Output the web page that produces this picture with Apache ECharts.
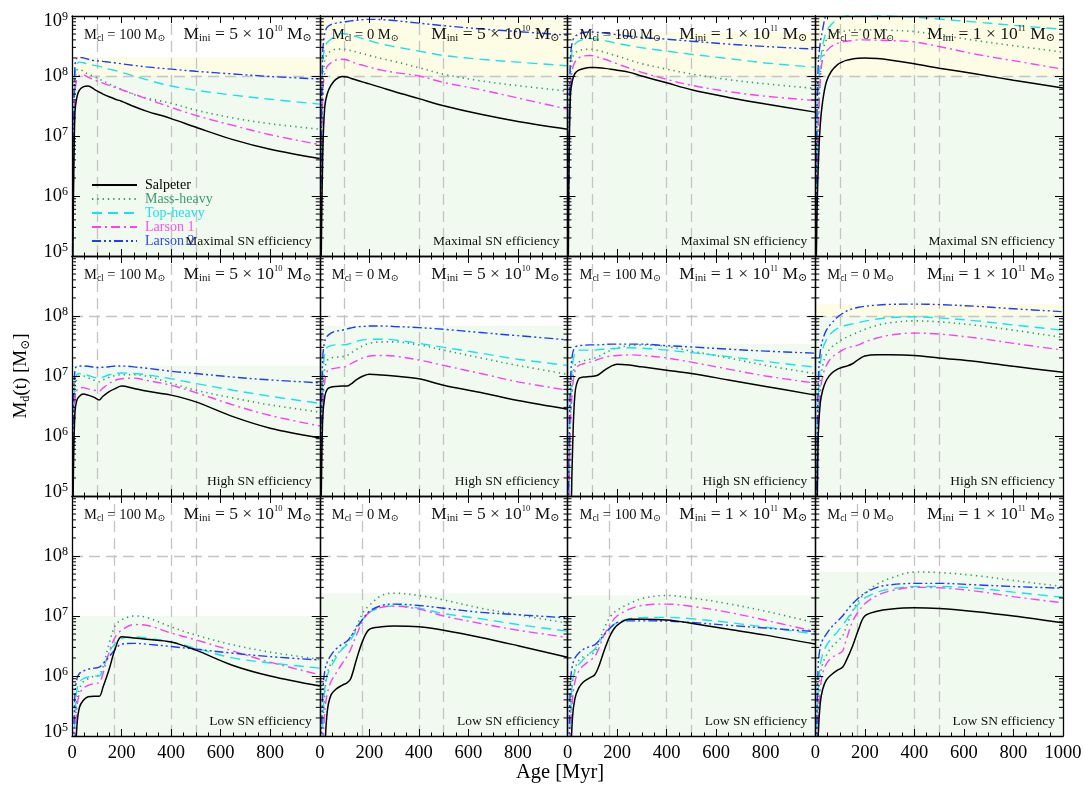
<!DOCTYPE html>
<html>
<head>
<meta charset="utf-8">
<script src="https://cdn.jsdelivr.net/npm/echarts@6/dist/echarts.min.js"></script>
<style>html,body{margin:0;padding:0;background:#fff;}#chart{width:1085px;height:785px;}</style>
</head>
<body>
<div id="chart"></div>
<script>
// ---------------- DATA ----------------
const AGE = [2, 6, 12, 20, 30, 45, 65, 90, 110, 125, 150, 175, 200, 250, 300, 400, 500, 650, 800, 1000];
const SERIES_NAMES = ['Salpeter', 'Mass-heavy', 'Top-heavy', 'Larson 1', 'Larson 2'];
const M_CL = ['100', '0', '100', '0'];
const M_INI_COEF = ['5', '5', '1', '1'];
const M_INI_EXP = ['10', '10', '11', '11'];
const ROW_LABELS = ['Maximal SN efficiency', 'High SN efficiency', 'Low SN efficiency'];
const V_LINES = [[100, 400, 500], [100, 400, 500], [170, 400, 500]];
const H_LINE = 1e8;
const X_TICKS = [0, 200, 400, 600, 800, 1000];
const Y_DECADES = [1e5, 1e6, 1e7, 1e8, 1e9];
const MINOR_MULT = [2, 3, 4, 5, 6, 7, 8, 9];

// Row 1: Maximal SN efficiency
const R1C1_SAL = [3e4, 1e6, 2.5e7, 4.5e7, 5.8e7, 6.6e7, 6.8e7, 6.0e7, 5.4e7, 5.0e7, 4.5e7, 4.1e7, 3.8e7, 3.1e7, 2.6e7, 1.95e7, 1.4e7, 8.7e6, 6.0e6, 4.2e6];
const R1C1_MH  = [3e4, 3e6, 8e7, 1.26e8, 1.3e8, 1.2e8, 1.07e8, 9.8e7, 8.9e7, 8.3e7, 7.4e7, 6.6e7, 6.0e7, 4.9e7, 4.3e7, 3.5e7, 2.7e7, 2.0e7, 1.6e7, 1.3e7];
const R1C1_TH  = [3e4, 5e6, 1e8, 1.6e8, 1.7e8, 1.66e8, 1.58e8, 1.5e8, 1.45e8, 1.4e8, 1.3e8, 1.23e8, 1.15e8, 1e8, 8.7e7, 6.8e7, 5.8e7, 4.8e7, 4.1e7, 3.4e7];
const R1C1_L1  = [2e4, 2e6, 5e7, 9e7, 1.02e8, 1.05e8, 9.6e7, 8.6e7, 8.0e7, 7.6e7, 7.0e7, 6.4e7, 5.9e7, 5.0e7, 4.2e7, 3.0e7, 2.2e7, 1.5e7, 1.05e7, 7.2e6];
const R1C1_L2  = [5e4, 1e7, 1.5e8, 2e8, 2.05e8, 2e8, 1.9e8, 1.8e8, 1.78e8, 1.75e8, 1.7e8, 1.65e8, 1.6e8, 1.5e8, 1.42e8, 1.3e8, 1.2e8, 1.08e8, 9.8e7, 8.9e7];

const R1C2_SAL = [1e4, 1e5, 5e6, 3e7, 5e7, 7e7, 8.8e7, 9.8e7, 9.6e7, 9.2e7, 8.5e7, 7.9e7, 7.4e7, 6.4e7, 5.5e7, 4.2e7, 3.2e7, 2.3e7, 1.75e7, 1.3e7];
const R1C2_MH  = [1e4, 1e6, 8e7, 1.8e8, 2.3e8, 2.6e8, 2.8e8, 2.8e8, 2.75e8, 2.65e8, 2.5e8, 2.35e8, 2.2e8, 1.95e8, 1.75e8, 1.38e8, 1.07e8, 8.3e7, 6.9e7, 5.6e7];
const R1C2_TH  = [1e4, 2e6, 1.5e8, 3e8, 3.6e8, 4.1e8, 4.7e8, 5.1e8, 5e8, 4.8e8, 4.5e8, 4.2e8, 3.9e8, 3.4e8, 3.1e8, 2.6e8, 2.2e8, 1.9e8, 1.7e8, 1.48e8];
const R1C2_L1  = [1e4, 5e5, 5e7, 1.1e8, 1.45e8, 1.65e8, 1.85e8, 1.9e8, 1.85e8, 1.75e8, 1.6e8, 1.5e8, 1.4e8, 1.25e8, 1.15e8, 1e8, 7.8e7, 5.9e7, 4.3e7, 2.8e7];
const R1C2_L2  = [1e4, 5e6, 2.5e8, 5e8, 6.5e8, 7.2e8, 7.6e8, 7.9e8, 8.1e8, 8.3e8, 8.5e8, 8.7e8, 8.8e8, 8.7e8, 8.4e8, 7.6e8, 6.9e8, 6.1e8, 5.5e8, 4.8e8];

const R1C3_SAL = [1e4, 3e6, 5e7, 8.5e7, 1.1e8, 1.25e8, 1.33e8, 1.38e8, 1.38e8, 1.37e8, 1.34e8, 1.3e8, 1.25e8, 1.15e8, 1e8, 7.7e7, 5.9e7, 4.4e7, 3.4e7, 2.5e7];
const R1C3_MH  = [1e4, 5e6, 1e8, 2e8, 2.4e8, 2.65e8, 2.75e8, 2.8e8, 2.75e8, 2.65e8, 2.5e8, 2.3e8, 2.15e8, 1.85e8, 1.6e8, 1.3e8, 1.08e8, 8.7e7, 7.4e7, 6.2e7];
const R1C3_TH  = [1e4, 8e6, 1.5e8, 2.8e8, 3.4e8, 3.8e8, 4.05e8, 4.2e8, 4.15e8, 4.05e8, 3.9e8, 3.7e8, 3.5e8, 3.2e8, 2.95e8, 2.6e8, 2.3e8, 1.95e8, 1.65e8, 1.4e8];
const R1C3_L1  = [1e4, 2e6, 6e7, 1.3e8, 1.7e8, 2e8, 2.15e8, 2.2e8, 2.15e8, 2.05e8, 1.9e8, 1.75e8, 1.6e8, 1.35e8, 1.15e8, 8.8e7, 7e7, 5.5e7, 4.6e7, 3.9e7];
const R1C3_L2  = [1e4, 1e7, 2e8, 3.8e8, 4.5e8, 5e8, 5.3e8, 5.4e8, 5.4e8, 5.3e8, 5.2e8, 5e8, 4.9e8, 4.6e8, 4.4e8, 4.1e8, 3.8e8, 3.4e8, 3.1e8, 2.8e8];

const R1C4_SAL = [1e4, 3e5, 3e6, 1.5e7, 3.8e7, 8e7, 1.2e8, 1.55e8, 1.72e8, 1.82e8, 1.92e8, 1.98e8, 2e8, 1.95e8, 1.85e8, 1.6e8, 1.35e8, 1.08e8, 8.5e7, 6.3e7];
const R1C4_MH  = [1e4, 1e6, 2e7, 1e8, 2.5e8, 4e8, 4.8e8, 5.3e8, 5.5e8, 5.7e8, 5.8e8, 5.9e8, 5.9e8, 5.9e8, 5.8e8, 5.5e8, 4.8e8, 3.9e8, 3.2e8, 2.5e8];
const R1C4_TH  = [1e4, 3e6, 5e7, 1.6e8, 3.2e8, 5.5e8, 7.2e8, 9e8, 9.7e8, 1e9, 1.03e9, 1.05e9, 1.05e9, 1.04e9, 1e9, 9.6e8, 8.9e8, 7.9e8, 7e8, 6e8];
const R1C4_L1  = [1e4, 5e5, 1e7, 8e7, 1.9e8, 2.6e8, 3.1e8, 3.5e8, 3.7e8, 3.8e8, 3.9e8, 4e8, 4e8, 3.95e8, 3.9e8, 3.7e8, 3.1e8, 2.3e8, 1.8e8, 1.3e8];
const R1C4_L2  = [1e4, 1e7, 1.5e8, 3.5e8, 6e8, 1.1e9, 1.4e9, 1.6e9, 1.7e9, 1.75e9, 1.8e9, 1.8e9, 1.8e9, 1.75e9, 1.7e9, 1.6e9, 1.5e9, 1.4e9, 1.3e9, 1.2e9];

// Row 2: High SN efficiency
const R2C1_SAL = [1e4, 3e5, 2.5e6, 4e6, 4.6e6, 5e6, 4.8e6, 4.4e6, 4.0e6, 4.6e6, 5.5e6, 6.2e6, 6.8e6, 6.2e6, 5.6e6, 4.8e6, 3.7e6, 2.1e6, 1.35e6, 9.3e5];
const R2C1_MH  = [1e4, 1e6, 6e6, 9e6, 1e7, 1e7, 9.3e6, 8.5e6, 8e6, 8.6e6, 9.5e6, 1.02e7, 1.05e7, 1.05e7, 1e7, 7.6e6, 5.8e6, 4.3e6, 3.3e6, 2.5e6];
const R2C1_TH  = [1e4, 2e6, 9e6, 1.05e7, 1.1e7, 1.08e7, 1.02e7, 9.5e6, 9e6, 9.6e6, 1.05e7, 1.1e7, 1.12e7, 1.1e7, 1.05e7, 9e6, 7.5e6, 5.8e6, 4.6e6, 3.5e6];
const R2C1_L1  = [1e4, 8e5, 4e6, 5.8e6, 6.3e6, 6.4e6, 6.1e6, 5.8e6, 5.6e6, 6.3e6, 7.5e6, 8.5e6, 9e6, 9.2e6, 8.5e6, 7e6, 5.3e6, 3.3e6, 2.2e6, 1.47e6];
const R2C1_L2  = [1e4, 3e6, 1.3e7, 1.45e7, 1.47e7, 1.47e7, 1.45e7, 1.4e7, 1.38e7, 1.4e7, 1.43e7, 1.47e7, 1.47e7, 1.42e7, 1.35e7, 1.2e7, 1.1e7, 9.6e6, 8.6e6, 7.7e6];

const R2C2_SAL = [1e4, 1e5, 2e6, 4.5e6, 6e6, 6.5e6, 6.7e6, 6.8e6, 6.8e6, 7.3e6, 8.8e6, 1e7, 1.07e7, 1.04e7, 1e7, 9e6, 7e6, 5.3e6, 3.9e6, 2.8e6];
const R2C2_MH  = [1e4, 3e5, 5e6, 1.3e7, 1.8e7, 2e7, 2.05e7, 2.1e7, 2.2e7, 2.4e7, 2.8e7, 3.2e7, 3.5e7, 3.7e7, 3.7e7, 3.3e7, 2.7e7, 2e7, 1.5e7, 1.07e7];
const R2C2_TH  = [1e4, 5e5, 1e7, 2.3e7, 3e7, 3.2e7, 3.3e7, 3.3e7, 3.35e7, 3.5e7, 3.8e7, 4e7, 4.1e7, 4.1e7, 4e7, 3.5e7, 3e7, 2.4e7, 1.9e7, 1.5e7];
const R2C2_L1  = [1e4, 2e5, 3e6, 8e6, 1.2e7, 1.3e7, 1.35e7, 1.4e7, 1.45e7, 1.6e7, 1.8e7, 2e7, 2.15e7, 2.2e7, 2.15e7, 1.85e7, 1.5e7, 1.1e7, 8e6, 5.8e6];
const R2C2_L2  = [1e4, 1e6, 2e7, 3.8e7, 4.6e7, 5.2e7, 5.6e7, 5.8e7, 6.1e7, 6.3e7, 6.6e7, 6.7e7, 6.8e7, 6.8e7, 6.7e7, 6.4e7, 6e7, 5.3e7, 4.7e7, 4e7];

const R2C3_SAL = [1e4, 1e4, 2e4, 5e5, 5e6, 9e6, 9.6e6, 9.8e6, 1e7, 1.05e7, 1.25e7, 1.45e7, 1.57e7, 1.52e7, 1.42e7, 1.25e7, 1.1e7, 8.6e6, 6.7e6, 4.8e6];
const R2C3_MH  = [1e4, 1e5, 2e6, 8e6, 1.5e7, 1.7e7, 1.8e7, 1.9e7, 2e7, 2.1e7, 2.4e7, 2.7e7, 2.95e7, 3.2e7, 3.3e7, 3.1e7, 2.6e7, 2e7, 1.5e7, 1.1e7];
const R2C3_TH  = [1e4, 2e5, 4e6, 1.5e7, 2.4e7, 2.7e7, 2.7e7, 2.7e7, 2.7e7, 2.75e7, 2.8e7, 2.85e7, 2.9e7, 2.95e7, 2.9e7, 2.7e7, 2.45e7, 2.1e7, 1.75e7, 1.4e7];
const R2C3_L1  = [1e4, 1e5, 1.5e6, 6e6, 1.2e7, 1.5e7, 1.6e7, 1.7e7, 1.8e7, 1.9e7, 2.05e7, 2.15e7, 2.2e7, 2.25e7, 2.2e7, 2e7, 1.7e7, 1.3e7, 1e7, 7.6e6];
const R2C3_L2  = [1e4, 5e5, 8e6, 2.3e7, 3e7, 3.2e7, 3.25e7, 3.3e7, 3.3e7, 3.3e7, 3.35e7, 3.4e7, 3.4e7, 3.4e7, 3.4e7, 3.2e7, 3.05e7, 2.8e7, 2.6e7, 2.4e7];

const R2C4_SAL = [1e4, 2e4, 1e6, 3.5e6, 5.8e6, 8.5e6, 1.1e7, 1.3e7, 1.4e7, 1.45e7, 1.6e7, 1.9e7, 2.15e7, 2.25e7, 2.25e7, 2.2e7, 2e7, 1.75e7, 1.45e7, 1.15e7];
const R2C4_MH  = [1e4, 5e4, 2e6, 8e6, 1.5e7, 2.3e7, 3e7, 3.6e7, 4.1e7, 4.4e7, 4.9e7, 5.4e7, 6e7, 7e7, 7.7e7, 8.3e7, 8e7, 7e7, 5.8e7, 4.4e7];
const R2C4_TH  = [1e4, 1e5, 4e6, 1.5e7, 2.8e7, 4e7, 5.2e7, 6.2e7, 6.7e7, 7e7, 7.4e7, 7.8e7, 8.2e7, 8.9e7, 9.4e7, 9.7e7, 9.3e7, 8.3e7, 7.1e7, 5.8e7];
const R2C4_L1  = [1e4, 2e4, 1e6, 5e6, 1e7, 1.5e7, 2e7, 2.4e7, 2.7e7, 2.9e7, 3.1e7, 3.3e7, 3.7e7, 4.3e7, 4.8e7, 5.2e7, 5e7, 4.3e7, 3.5e7, 2.7e7];
const R2C4_L2  = [1e4, 2e5, 8e6, 2.5e7, 4e7, 5.8e7, 7.5e7, 9.6e7, 1.1e8, 1.2e8, 1.32e8, 1.4e8, 1.45e8, 1.52e8, 1.56e8, 1.58e8, 1.55e8, 1.45e8, 1.32e8, 1.18e8];

// Row 3: Low SN efficiency
const R3C1_SAL = [1e3, 5e3, 3e4, 1.5e5, 3e5, 3.9e5, 4.5e5, 4.6e5, 4.6e5, 6.5e5, 1.3e6, 2.9e6, 4.5e6, 4.3e6, 4.1e6, 3.7e6, 2.7e6, 1.5e6, 1e6, 6.8e5];
const R3C1_MH  = [1e3, 2e4, 1e5, 4e5, 6e5, 8e5, 9e5, 1e6, 1.05e6, 1.4e6, 3.5e6, 7e6, 8.6e6, 1e7, 9.5e6, 6.6e6, 4.8e6, 3.3e6, 2.5e6, 1.9e6];
const R3C1_TH  = [1e3, 3e4, 2e5, 6e5, 8e5, 9e5, 9.6e5, 1e6, 1e6, 1.3e6, 2.5e6, 3.5e6, 4.2e6, 4.5e6, 4.3e6, 3.7e6, 2.9e6, 2e6, 1.65e6, 1.35e6];
const R3C1_L1  = [1e3, 1e4, 8e4, 3e5, 5e5, 6.2e5, 7e5, 7.5e5, 7.8e5, 1.1e6, 2.5e6, 4.5e6, 5.8e6, 7.2e6, 7e6, 5.2e6, 4e6, 2.6e6, 1.7e6, 1.05e6];
const R3C1_L2  = [1e3, 5e4, 5e5, 9e5, 1.1e6, 1.2e6, 1.3e6, 1.35e6, 1.4e6, 1.6e6, 2.1e6, 2.8e6, 3.4e6, 3.5e6, 3.4e6, 3.1e6, 2.8e6, 2.4e6, 2.1e6, 1.85e6];

const R3C2_SAL = [1e3, 1e3, 5e3, 5e4, 2.5e5, 4.8e5, 6e5, 7e5, 7.7e5, 9e5, 2e6, 4e6, 6e6, 6.6e6, 6.8e6, 6.6e6, 5.8e6, 4.4e6, 3.2e6, 2.05e6];
const R3C2_MH  = [1e3, 1e4, 1e5, 5e5, 1.1e6, 1.6e6, 2.2e6, 2.8e6, 3.5e6, 4.5e6, 7e6, 1.15e7, 1.5e7, 2.2e7, 2.4e7, 2.2e7, 1.85e7, 1.35e7, 1.05e7, 7.6e6];
const R3C2_TH  = [1e3, 1e4, 1.5e5, 6e5, 1e6, 1.4e6, 2e6, 2.8e6, 3.3e6, 4e6, 6e6, 9e6, 1.15e7, 1.4e7, 1.47e7, 1.35e7, 1.1e7, 9e6, 7.2e6, 5.6e6];
const R3C2_L1  = [1e3, 5e3, 5e4, 2.5e5, 5e5, 8e5, 1.1e6, 1.6e6, 2.1e6, 2.8e6, 5e6, 8.5e6, 1.15e7, 1.4e7, 1.45e7, 1.3e7, 1e7, 7.5e6, 5.8e6, 4.4e6];
const R3C2_L2  = [1e3, 5e4, 5e5, 1.2e6, 1.7e6, 2.2e6, 2.8e6, 3.4e6, 3.8e6, 4.5e6, 6.5e6, 9e6, 1.2e7, 1.5e7, 1.58e7, 1.5e7, 1.35e7, 1.15e7, 1.05e7, 9.3e6];

const R3C3_SAL = [1e3, 2e3, 3e4, 2e5, 4.2e5, 6.3e5, 8e5, 9.3e5, 1.05e6, 1.4e6, 2.8e6, 5e6, 7e6, 8.8e6, 8.8e6, 8.6e6, 7.6e6, 6e6, 4.8e6, 3.4e6];
const R3C3_MH  = [1e3, 2e4, 2e5, 8e5, 1.3e6, 1.8e6, 2.1e6, 2.3e6, 2.5e6, 3.5e6, 6.5e6, 1e7, 1.25e7, 1.6e7, 1.95e7, 2.2e7, 2e7, 1.6e7, 1.2e7, 7.7e6];
const R3C3_TH  = [1e3, 2e4, 2e5, 8e5, 1.2e6, 1.55e6, 1.9e6, 2.4e6, 2.8e6, 3.5e6, 5e6, 6.5e6, 7.8e6, 9e6, 9.4e6, 9.5e6, 9e6, 7.8e6, 6.5e6, 5e6];
const R3C3_L1  = [1e3, 1e4, 1e5, 4e5, 8e5, 1.2e6, 1.5e6, 1.8e6, 2.1e6, 2.8e6, 5e6, 7.5e6, 1e7, 1.3e7, 1.5e7, 1.58e7, 1.45e7, 1.15e7, 8.5e6, 5.5e6];
const R3C3_L2  = [1e3, 5e4, 8e5, 1.5e6, 2e6, 2.4e6, 2.8e6, 3.1e6, 3.3e6, 3.8e6, 5e6, 6.5e6, 7.8e6, 8.3e6, 8.3e6, 8.2e6, 7.8e6, 7e6, 6.3e6, 5.5e6];

const R3C4_SAL = [1e3, 5e3, 1e5, 3.5e5, 6e5, 8.6e5, 1.05e6, 1.25e6, 1.4e6, 1.8e6, 3.1e6, 6e6, 1e7, 1.2e7, 1.3e7, 1.37e7, 1.33e7, 1.18e7, 1e7, 7.7e6];
const R3C4_MH  = [1e3, 5e4, 4e5, 1e6, 1.6e6, 2.2e6, 3e6, 3.8e6, 4.6e6, 6.5e6, 1.2e7, 1.8e7, 2.4e7, 3.4e7, 4.2e7, 5.4e7, 5.3e7, 4.7e7, 3.9e7, 3.1e7];
const R3C4_TH  = [1e3, 8e4, 6e5, 1.5e6, 2.3e6, 3.2e6, 4.2e6, 5.5e6, 7e6, 8.5e6, 1.2e7, 1.6e7, 2e7, 2.5e7, 2.8e7, 3.1e7, 3.1e7, 2.9e7, 2.5e7, 2.05e7];
const R3C4_L1  = [1e3, 2e4, 2e5, 6e5, 1.1e6, 1.6e6, 2e6, 2.3e6, 2.6e6, 4e6, 8e6, 1.2e7, 1.6e7, 2.2e7, 2.6e7, 3e7, 2.95e7, 2.6e7, 2.1e7, 1.66e7];
const R3C4_L2  = [1e3, 1e5, 1.5e6, 3e6, 4e6, 5e6, 6.5e6, 8.2e6, 1e7, 1.2e7, 1.6e7, 2e7, 2.4e7, 3e7, 3.3e7, 3.5e7, 3.5e7, 3.3e7, 3.1e7, 2.9e7];

// table of panels (row-major) built from the arrays above
const PANELS = [
  [R1C1_SAL, R1C1_MH, R1C1_TH, R1C1_L1, R1C1_L2],
  [R1C2_SAL, R1C2_MH, R1C2_TH, R1C2_L1, R1C2_L2],
  [R1C3_SAL, R1C3_MH, R1C3_TH, R1C3_L1, R1C3_L2],
  [R1C4_SAL, R1C4_MH, R1C4_TH, R1C4_L1, R1C4_L2],
  [R2C1_SAL, R2C1_MH, R2C1_TH, R2C1_L1, R2C1_L2],
  [R2C2_SAL, R2C2_MH, R2C2_TH, R2C2_L1, R2C2_L2],
  [R2C3_SAL, R2C3_MH, R2C3_TH, R2C3_L1, R2C3_L2],
  [R2C4_SAL, R2C4_MH, R2C4_TH, R2C4_L1, R2C4_L2],
  [R3C1_SAL, R3C1_MH, R3C1_TH, R3C1_L1, R3C1_L2],
  [R3C2_SAL, R3C2_MH, R3C2_TH, R3C2_L1, R3C2_L2],
  [R3C3_SAL, R3C3_MH, R3C3_TH, R3C3_L1, R3C3_L2],
  [R3C4_SAL, R3C4_MH, R3C4_TH, R3C4_L1, R3C4_L2]
];

// ---------------- STYLE ----------------
const FONT = "'Liberation Serif','DejaVu Serif',serif";
const LINE_COLORS = ['#000000', '#2e9a62', '#18e2ee', '#ff3ff2', '#1c3cff'];
const TEXT_COLORS = ['#000000', '#3d9c70', '#1fe0ea', '#ff4ff0', '#2a48ff'];
const LINE_TYPES = ['solid', [1.3, 4], [10, 6], [9, 4, 2, 4], [9, 3, 2, 3, 2, 3]];
const LINE_WIDTHS = [1.5, 1.6, 1.4, 1.4, 1.4];
const GREEN_FILL = '#f0faef';
const YELLOW_FILL = '#fdfde6';
const REF_GREY = '#c4c4c4';

const PLOT_LEFT = 72, PLOT_TOP = 16, CELL_W = 247.75, CELL_H = 240;

const grids = [], xAxes = [], yAxes = [], series = [], graphics = [];
const yMin = Y_DECADES[0], yMax = Y_DECADES[Y_DECADES.length - 1];
const minorVals = [];
Y_DECADES.slice(0, -1).forEach(d => MINOR_MULT.forEach(m => minorVals.push([0, d * m])));

for (let r = 0; r < 3; r++) {
  for (let c = 0; c < 4; c++) {
    const idx = r * 4 + c;
    const left = PLOT_LEFT + CELL_W * c;
    const top = PLOT_TOP + CELL_H * r;
    grids.push({ left: left, top: top, width: CELL_W, height: CELL_H, containLabel: false });

    const xBase = {
      gridIndex: idx, type: 'value', min: 0, max: 1000, interval: 200, z: 5,
      axisLine: { show: true, onZero: false, lineStyle: { color: '#000', width: 1.3 } },
      axisTick: { show: true, inside: true, length: 7, lineStyle: { color: '#000', width: 1 } },
      minorTick: { show: true, splitNumber: 4, length: 3.5, lineStyle: { color: '#000', width: 1 } },
      splitLine: { show: false }, minorSplitLine: { show: false }
    };
    xAxes.push(Object.assign({}, xBase, {
      position: 'bottom',
      axisLabel: {
        show: r === 2, fontFamily: FONT, fontSize: 18.5, color: '#000', margin: 8,
        showMaxLabel: c === 3, showMinLabel: true,
        formatter: v => X_TICKS.indexOf(v) >= 0 ? String(v) : ''
      }
    }));
    xAxes.push(Object.assign({}, xBase, { position: 'top', axisLabel: { show: false } }));

    const yBase = {
      gridIndex: idx, type: 'log', logBase: 10, min: yMin, max: yMax, splitNumber: 4, z: 5,
      axisLine: { show: true, onZero: false, lineStyle: { color: '#000', width: 1.3 } },
      axisTick: { show: true, inside: true, length: 8, lineStyle: { color: '#000', width: 1 } },
      splitLine: { show: false }
    };
    yAxes.push(Object.assign({}, yBase, {
      position: 'left',
      axisLabel: {
        show: c === 0, margin: 4, color: '#000',
        showMaxLabel: r === 0, showMinLabel: true,
        formatter: function (v) {
          const e = Math.round(Math.log10(v));
          if (e === 5) return '{b|10}{s|' + e + '}\n{g| }';
          if (e === 9) return '{g| }\n{b|10}{s|' + e + '}';
          return '{b|10}{s|' + e + '}';
        },
        rich: {
          b: { fontFamily: FONT, fontSize: 18.5, lineHeight: 20, color: '#000', verticalAlign: 'bottom' },
          s: { fontFamily: FONT, fontSize: 12, lineHeight: 12, color: '#000', verticalAlign: 'top', padding: [0, 0, 0, 0] },
          g: { fontSize: 2, lineHeight: 9 }
        }
      }
    }));
    yAxes.push(Object.assign({}, yBase, { position: 'right', axisLabel: { show: false } }));

    const xi = idx * 2, yi = idx * 2;
    const vals = PANELS[idx];
    let peak = 0;
    vals.forEach(a => a.forEach(v => { if (v > peak) peak = v; }));
    const topShade = Math.min(peak, yMax);
    const areas = [[{ xAxis: 0, yAxis: yMin, itemStyle: { color: GREEN_FILL } }, { xAxis: 1000, yAxis: Math.min(topShade, H_LINE) }]];
    if (topShade > H_LINE) {
      areas.push([{ xAxis: 0, yAxis: H_LINE, itemStyle: { color: YELLOW_FILL } }, { xAxis: 1000, yAxis: topShade }]);
    }
    const refLines = V_LINES[r].map(v => ({ xAxis: v })).concat([{ yAxis: H_LINE }]);

    SERIES_NAMES.forEach((name, k) => {
      const s = {
        type: 'line', name: name, xAxisIndex: xi, yAxisIndex: yi,
        data: AGE.map((t, i) => [t, vals[k][i]]),
        symbol: 'none', showSymbol: false, smooth: 0.35,
        clip: true, silent: true, animation: false, z: 3 + (k === 0 ? 1 : 0),
        lineStyle: { color: LINE_COLORS[k], width: LINE_WIDTHS[k], type: LINE_TYPES[k] },
        itemStyle: { color: LINE_COLORS[k] }
      };
      if (k === 0) {
        s.markArea = { silent: true, z: 0, animation: false, data: areas };
        s.markLine = {
          silent: true, z: 1, animation: false, symbol: ['none', 'none'],
          label: { show: false },
          lineStyle: { color: REF_GREY, type: [11, 6], width: 1.3 },
          data: refLines
        };
      }
      series.push(s);
    });

    // minor log ticks on left and right edges
    series.push({
      type: 'custom', xAxisIndex: xi, yAxisIndex: yi, silent: true, z: 6, clip: false, animation: false,
      data: minorVals,
      renderItem: function (params, api) {
        const v = api.value(1);
        const pl = api.coord([0, v]);
        const pr = api.coord([1000, v]);
        return {
          type: 'group', children: [
            { type: 'line', shape: { x1: pl[0], y1: pl[1], x2: pl[0] + 4, y2: pl[1] }, style: { stroke: '#000', lineWidth: 1 } },
            { type: 'line', shape: { x1: pr[0] - 4, y1: pr[1], x2: pr[0], y2: pr[1] }, style: { stroke: '#000', lineWidth: 1 } }
          ]
        };
      }
    });

    // panel annotations
    graphics.push({
      type: 'text', x: left + 12, y: top + 19, z: 20, silent: true,
      style: {
        text: '{m|M}{s|cl}{m| = ' + M_CL[c] + ' M}{s|\u2299}',
        align: 'left', verticalAlign: 'middle',
        rich: {
          m: { fontFamily: FONT, fontSize: 14.5, lineHeight: 17, fill: '#111', verticalAlign: 'middle' },
          s: { fontFamily: FONT, fontSize: 9.5, lineHeight: 9, fill: '#111', verticalAlign: 'bottom' }
        }
      }
    });
    graphics.push({
      type: 'text', x: left + CELL_W - 8, y: top + 18, z: 20, silent: true,
      style: {
        text: '{m|M}{s|ini}{m| = ' + M_INI_COEF[c] + ' \u00d7 10}{e|' + M_INI_EXP[c] + '}{m| M}{s|\u2299}',
        align: 'right', verticalAlign: 'middle',
        rich: {
          m: { fontFamily: FONT, fontSize: 17.5, lineHeight: 20, fill: '#111', verticalAlign: 'middle' },
          s: { fontFamily: FONT, fontSize: 11, lineHeight: 10, fill: '#111', verticalAlign: 'bottom' },
          e: { fontFamily: FONT, fontSize: 8.5, lineHeight: 9, fill: '#111', verticalAlign: 'top' }
        }
      }
    });
    graphics.push({
      type: 'text', x: left + CELL_W - 8, y: top + CELL_H - 15, z: 20, silent: true,
      style: { text: ROW_LABELS[r], align: 'right', verticalAlign: 'middle', fontFamily: FONT, fontSize: 13.5, fill: '#111' }
    });
  }
}

// axis titles
graphics.push({
  type: 'text', x: 21, y: 376, rotation: Math.PI / 2, z: 20, silent: true,
  style: {
    text: '{m|M}{s|d}{m|(t) [M}{s|\u2299}{m|]}', align: 'center', verticalAlign: 'middle',
    rich: {
      m: { fontFamily: FONT, fontSize: 19, lineHeight: 22, fill: '#000', verticalAlign: 'middle' },
      s: { fontFamily: FONT, fontSize: 12, lineHeight: 12, fill: '#000', verticalAlign: 'bottom' }
    }
  }
});
graphics.push({
  type: 'text', x: 560, y: 773, z: 20, silent: true,
  style: { text: 'Age [Myr]', align: 'center', verticalAlign: 'middle', fontFamily: FONT, fontSize: 20.5, fill: '#000' }
});

const option = {
  animation: false,
  backgroundColor: '#ffffff',
  grid: grids,
  xAxis: xAxes,
  yAxis: yAxes,
  legend: {
    show: true, orient: 'vertical', left: 91, top: 178, padding: 0,
    itemWidth: 45, itemHeight: 12, itemGap: 0, selectedMode: false, z: 20,
    itemStyle: { opacity: 0, borderWidth: 0 },
    textStyle: { fontFamily: FONT, fontSize: 14, lineHeight: 12, padding: [0, 0, 0, 3] },
    data: SERIES_NAMES.map((n, i) => ({ name: n, textStyle: { color: TEXT_COLORS[i] } }))
  },
  series: series,
  graphic: graphics
};

const chart = echarts.init(document.getElementById('chart'), null, { renderer: 'canvas' });
chart.setOption(option);
</script>
</body>
</html>
